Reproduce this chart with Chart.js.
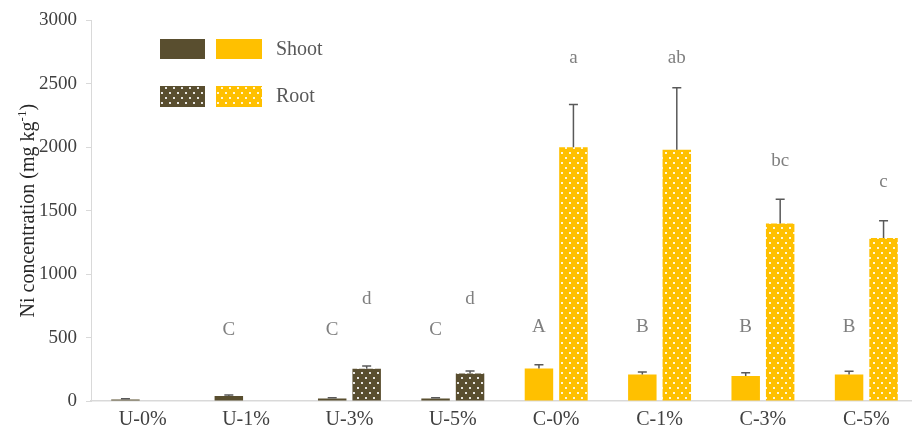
<!DOCTYPE html>
<html>
<head>
<meta charset="utf-8">
<title>Ni concentration</title>
<script src="https://cdn.jsdelivr.net/npm/chart.js@4/dist/chart.umd.min.js"></script>
<style>
  html, body { margin: 0; padding: 0; background: #ffffff; overflow: hidden; }
  #wrap { width: 918px; height: 435px; }
</style>
</head>
<body>
<div id="wrap"><canvas id="chart" width="918" height="435"></canvas></div>
<script>
// Treatments on the category axis
const categories = ['U-0%', 'U-1%', 'U-3%', 'U-5%', 'C-0%', 'C-1%', 'C-3%', 'C-5%'];

// Mean Ni concentration (mg kg-1) and standard errors
const shootValues = [12, 40, 20, 20, 256, 209, 198, 209];
const shootErrors = [5, 8, 5, 5, 30, 20, 25, 25];
const rootValues = [0, 0, 255, 217, 2000, 1980, 1400, 1285];
const rootErrors = [0, 0, 20, 20, 338, 490, 190, 135];

// Significance letters and the level they are written at
const shootLetters = ['', 'C', 'C', 'C', 'A', 'B', 'B', 'B'];
const shootLetterLevels = [0, 560, 560, 560, 580, 580, 580, 580];
const rootLetters = ['', '', 'd', 'd', 'a', 'ab', 'bc', 'c'];
const rootLetterLevels = [0, 0, 805, 805, 2700, 2700, 1895, 1730];

// Value axis ticks
const yTicks = [0, 500, 1000, 1500, 2000, 2500, 3000];

const DARK = '#594e2f';
const GOLD = '#ffc000';
const SERIF = '"Liberation Serif", "Times New Roman", serif';

// Dotted fill used for root bars
function dotted(base) {
  const c = document.createElement('canvas');
  c.width = 8; c.height = 10;
  const g = c.getContext('2d');
  g.fillStyle = base;
  g.fillRect(0, 0, 8, 10);
  g.fillStyle = 'rgba(255,255,255,0.85)';
  g.fillRect(1, 2, 2, 2);
  g.fillRect(5, 7, 2, 2);
  return g.createPattern(c, 'repeat');
}
const DARK_DOTS = dotted(DARK);
const GOLD_DOTS = dotted(GOLD);

const shootColors = categories.map(c => c.startsWith('U') ? DARK : GOLD);
const rootColors = categories.map(c => c.startsWith('U') ? DARK_DOTS : GOLD_DOTS);

const errors = [shootErrors, rootErrors];
const letters = [shootLetters, rootLetters];
const letterLevels = [shootLetterLevels, rootLetterLevels];

// Error bars (upper half) and significance letters
const annotations = {
  id: 'annotations',
  afterDatasetsDraw(chart) {
    const ctx = chart.ctx;
    const y = chart.scales.y;
    ctx.save();
    chart.data.datasets.forEach((ds, di) => {
      const meta = chart.getDatasetMeta(di);
      meta.data.forEach((bar, i) => {
        const v = ds.data[i];
        const e = errors[di][i];
        if (e > 0) {
          const top = y.getPixelForValue(v + e);
          ctx.strokeStyle = '#595959';
          ctx.lineWidth = 1.5;
          ctx.beginPath();
          ctx.moveTo(bar.x, bar.y);
          ctx.lineTo(bar.x, top);
          ctx.moveTo(bar.x - 4.5, top);
          ctx.lineTo(bar.x + 4.5, top);
          ctx.stroke();
        }
        const t = letters[di][i];
        if (t) {
          ctx.fillStyle = '#7f7f7f';
          ctx.font = '19px ' + SERIF;
          ctx.textAlign = 'center';
          ctx.textBaseline = 'middle';
          ctx.fillText(t, bar.x, y.getPixelForValue(letterLevels[di][i]));
        }
      });
    });
    ctx.restore();
  }
};

// Legend block and rotated axis title with superscript
const decorations = {
  id: 'decorations',
  afterDraw(chart) {
    const ctx = chart.ctx;
    const area = chart.chartArea;
    ctx.save();
    ctx.fillStyle = DARK;      ctx.fillRect(160, 39, 45, 20);
    ctx.fillStyle = GOLD;      ctx.fillRect(216, 39, 46, 20);
    ctx.fillStyle = DARK_DOTS; ctx.fillRect(160, 86, 45, 21);
    ctx.fillStyle = GOLD_DOTS; ctx.fillRect(216, 86, 46, 21);
    ctx.fillStyle = '#595959';
    ctx.font = '20px ' + SERIF;
    ctx.textAlign = 'left';
    ctx.textBaseline = 'middle';
    ctx.fillText(chart.data.datasets[0].label, 276, 50);
    ctx.fillText(chart.data.datasets[1].label, 276, 97);

    // y-axis title
    const main = 'Ni concentration (mg kg';
    const sup = '-1';
    const tail = ')';
    ctx.font = '20px ' + SERIF;
    const wMain = ctx.measureText(main).width;
    const wTail = ctx.measureText(tail).width;
    ctx.font = '13px ' + SERIF;
    const wSup = ctx.measureText(sup).width;
    const total = wMain + wSup + wTail;
    ctx.translate(27, (area.top + area.bottom) / 2);
    ctx.rotate(-Math.PI / 2);
    ctx.fillStyle = '#262626';
    ctx.textBaseline = 'alphabetic';
    let x = -total / 2;
    ctx.font = '20px ' + SERIF;
    ctx.fillText(main, x, 7);
    x += wMain;
    ctx.font = '13px ' + SERIF;
    ctx.fillText(sup, x, -1);
    x += wSup;
    ctx.font = '20px ' + SERIF;
    ctx.fillText(tail, x, 7);
    ctx.restore();
  }
};

new Chart(document.getElementById('chart'), {
  type: 'bar',
  data: {
    labels: categories,
    datasets: [
      { label: 'Shoot', data: shootValues, backgroundColor: shootColors, borderWidth: 0 },
      { label: 'Root', data: rootValues, backgroundColor: rootColors, borderWidth: 0 }
    ]
  },
  options: {
    responsive: false,
    animation: false,
    devicePixelRatio: 1,
    categoryPercentage: 0.667,
    barPercentage: 0.826,
    layout: { padding: { top: 18, right: 0, bottom: 0, left: 0 } },
    plugins: {
      legend: { display: false },
      tooltip: { enabled: false }
    },
    scales: {
      x: {
        offset: true,
        grid: { display: false, drawTicks: false },
        border: { display: true, color: '#d9d9d9', width: 1.5 },
        ticks: { color: '#404040', font: { family: SERIF, size: 20 }, padding: 7, maxRotation: 0 },
        afterFit(scale) { scale.height = 34; }
      },
      y: {
        min: 0,
        max: 3000,
        afterBuildTicks(scale) { scale.ticks = yTicks.map(v => ({ value: v })); },
        grid: { drawOnChartArea: false, drawTicks: true, tickLength: 5, color: '#d9d9d9' },
        border: { display: true, color: '#d9d9d9', width: 1 },
        ticks: {
          color: '#404040',
          font: { family: SERIF, size: 19 },
          padding: 9,
          callback: v => String(v)
        },
        afterFit(scale) { scale.width = 91; }
      }
    }
  },
  plugins: [annotations, decorations]
});
</script>
</body>
</html>
